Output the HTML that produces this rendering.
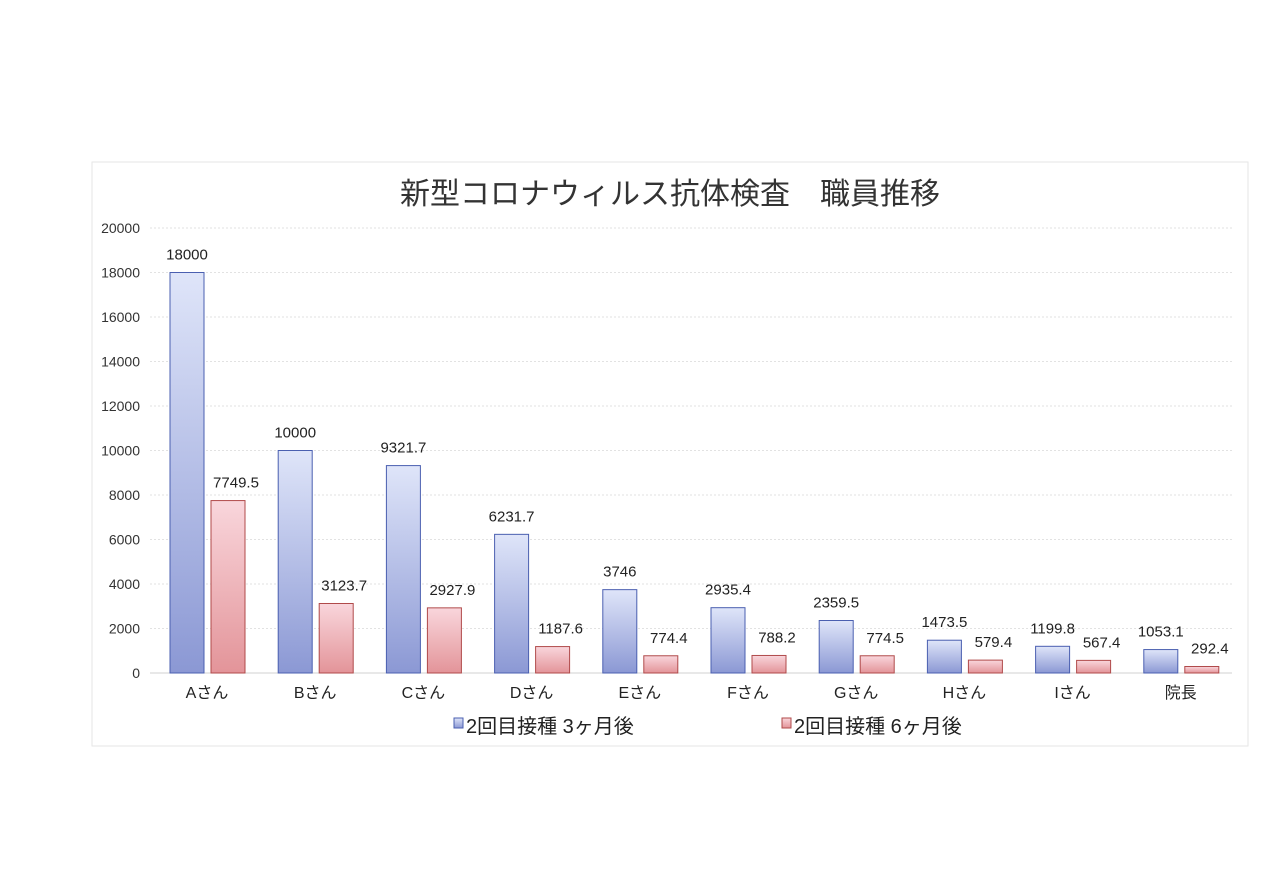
<!DOCTYPE html>
<html><head><meta charset="utf-8">
<style>
body{margin:0;background:#fff;width:1280px;height:876px;overflow:hidden;font-family:"Liberation Sans","Noto Sans CJK JP",sans-serif;}
svg text{font-family:"Liberation Sans","Noto Sans CJK JP",sans-serif;}
</style></head>
<body>
<svg width="1280" height="876">
<defs>
<linearGradient id="gb" x1="0" y1="0" x2="0" y2="1"><stop offset="0" stop-color="#dfe5f9"/><stop offset="1" stop-color="#8b98d4"/></linearGradient>
<linearGradient id="gr" x1="0" y1="0" x2="0" y2="1"><stop offset="0" stop-color="#f9d6dc"/><stop offset="1" stop-color="#e39499"/></linearGradient>
</defs>
<rect x="92" y="162" width="1156" height="584" fill="#fff" stroke="#e6e6e6"/>
<text x="670" y="204" text-anchor="middle" font-size="30" fill="#333">新型コロナウィルス抗体検査　職員推移</text>
<g id="grid"></g><g id="bars"></g>
<g>
<rect x="454" y="718" width="9" height="10" fill="url(#gb)" stroke="#4a5fb0"/>
<text x="466" y="733" font-size="20" fill="#222">2回目接種 3ヶ月後</text>
<rect x="782" y="718" width="9" height="10" fill="url(#gr)" stroke="#b04a4a"/>
<text x="794" y="733" font-size="20" fill="#222">2回目接種 6ヶ月後</text>
</g>
</svg>
<script>
const categories=["Aさん","Bさん","Cさん","Dさん","Eさん","Fさん","Gさん","Hさん","Iさん","院長"];
const series3m=[18000,10000,9321.7,6231.7,3746,2935.4,2359.5,1473.5,1199.8,1053.1];
const series6m=[7749.5,3123.7,2927.9,1187.6,774.4,788.2,774.5,579.4,567.4,292.4];
const yTicks=[0,2000,4000,6000,8000,10000,12000,14000,16000,18000,20000];
const NS="http://www.w3.org/2000/svg";
const y=v=>673-v*445/20000;
const x=i=>207+i*108.2;
function mk(t,a,p){const e=document.createElementNS(NS,t);for(const k in a)e.setAttribute(k,a[k]);p.appendChild(e);return e;}
const g=document.getElementById('grid'),b=document.getElementById('bars');
yTicks.forEach(t=>{
 const l=mk('line',{x1:150,x2:1232,y1:y(t),y2:y(t),stroke:t?'#e2e2e2':'#d0d0d0','stroke-dasharray':t?'2,2':''},g);
 
 
 const tx=mk('text',{x:140,y:y(t)+5,'text-anchor':'end','font-size':14,fill:'#333'},g);tx.textContent=t;
 
 
});
categories.forEach((c,i)=>{
 const cx=x(i);
 [[series3m,'url(#gb)','#4a5fb0',-37,'bar-3m'],[series6m,'url(#gr)','#b04a4a',4,'bar-6m']].forEach(([s,f,st,off,nm])=>{
  const v=s[i];
  const r=mk('rect',{x:cx+off,y:y(v),width:34,height:673-y(v),fill:f,stroke:st,'stroke-width':1},b);
  
  
  const t=mk('text',{x:cx+off+17+(nm==='bar-6m'?8:0),y:y(v)-13,'text-anchor':'middle','font-size':15,fill:'#222'},b);
  t.textContent=v;
  
  
 });
 const t=mk('text',{x:cx,y:698,'text-anchor':'middle','font-size':16,fill:'#222'},b);t.textContent=c;
 
 
});
</script>
</body></html>
